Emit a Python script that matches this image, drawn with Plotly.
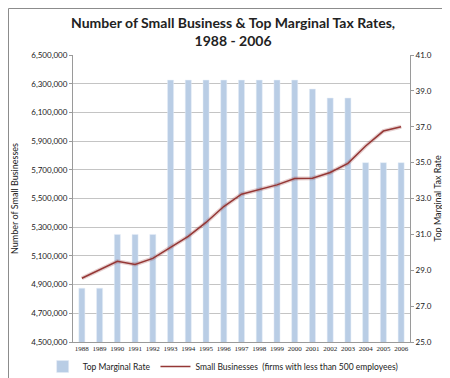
import plotly.graph_objects as go

years = [str(y) for y in range(1988, 2007)]
top_rate = [28.0, 28.0, 31.0, 31.0, 31.0, 39.6, 39.6, 39.6, 39.6, 39.6, 39.6, 39.6, 39.6,
            39.1, 38.6, 38.6, 35.0, 35.0, 35.0]
small_biz = [4944000, 5002000, 5062000, 5040000, 5083000, 5160000, 5236000, 5333000, 5444000,
             5530000, 5565000, 5595000, 5639000, 5641000, 5681000, 5745000, 5866000, 5970000, 6000000]

W, H = 450, 378
ml, mr, mt, mb = 65, 48, 47, 44
pw, ph = W - ml - mr, H - mt - mb

fig = go.Figure()
fig.add_trace(go.Bar(x=years, y=top_rate, name="Top Marginal Rate", marker_color="#b9cde5",
                     width=0.34, yaxis="y"))
fig.add_trace(go.Scatter(x=years, y=small_biz, mode="lines", line=dict(color="rgba(150,60,60,0.25)", width=4),
                         showlegend=False, hoverinfo="skip", yaxis="y2"))
fig.add_trace(go.Scatter(x=years, y=small_biz, mode="lines",
                         name="Small Businesses  (firms with less than 500 employees)",
                         line=dict(color="#953735", width=1.5), yaxis="y2"))

tickfont = dict(family="Lato", size=8, color="#1a1a1a")
fig.update_layout(
    width=W, height=H, margin=dict(l=ml, r=mr, t=mt, b=mb, autoexpand=False),
    paper_bgcolor="white", plot_bgcolor="white",
    xaxis=dict(type="category", showline=True, linecolor="#9a9a9a", linewidth=1, automargin=False,
               tickangle=0, tickfont=dict(family="Liberation Serif", size=7, color="#222222"),
               ticks="", showgrid=False),
    yaxis=dict(side="right", range=[25, 41], tick0=25, dtick=2, tickformat=".1f", showgrid=False,
               automargin=False,
               showline=True, linecolor="#9a9a9a", ticks="outside", ticklen=3, tickcolor="#9a9a9a",
               tickfont=tickfont,
               title=dict(text="Top Marginal Tax Rate", font=dict(family="Lato", size=9, color="#222222"),
                          standoff=0)),
    yaxis2=dict(side="left", overlaying="y", range=[4500000, 6500000], tick0=4500000, dtick=200000,
                tickformat=",",
                showgrid=True, gridcolor="#c4c4c4", gridwidth=1, automargin=False,
                showline=True, linecolor="#9a9a9a", ticks="outside", ticklen=3, tickcolor="#9a9a9a",
                tickfont=tickfont,
                title=dict(text="Number of Small Businesses", font=dict(family="Lato", size=9, color="#222222"),
                           standoff=11)),
    legend=dict(orientation="h", x=-0.09, xanchor="left", y=-0.035, yanchor="top",
                font=dict(family="Lato", size=8.5, color="#222222"), traceorder="normal",
                itemwidth=30, tracegroupgap=0),
    bargap=0.6,
    annotations=[dict(text="<b>Number of Small Business & Top Marginal Tax Rates,<br>1988 - 2006</b>",
                      xref="paper", yref="paper", x=(225 - ml) / pw, y=1 + (mt - 23) / ph,
                      xanchor="center", yanchor="middle", showarrow=False,
                      font=dict(family="Lato", size=14, color="#222222"))],
    shapes=[dict(type="rect", xref="paper", yref="paper",
                 x0=-(ml - 0.5) / pw, x1=1 + (mr - 1.5) / pw,
                 y0=-(mb - 1.5) / ph, y1=1 + (mt - 0.5) / ph,
                 line=dict(color="#8c8c8c", width=1), fillcolor="rgba(0,0,0,0)")],
)
fig.write_html("out.html")
